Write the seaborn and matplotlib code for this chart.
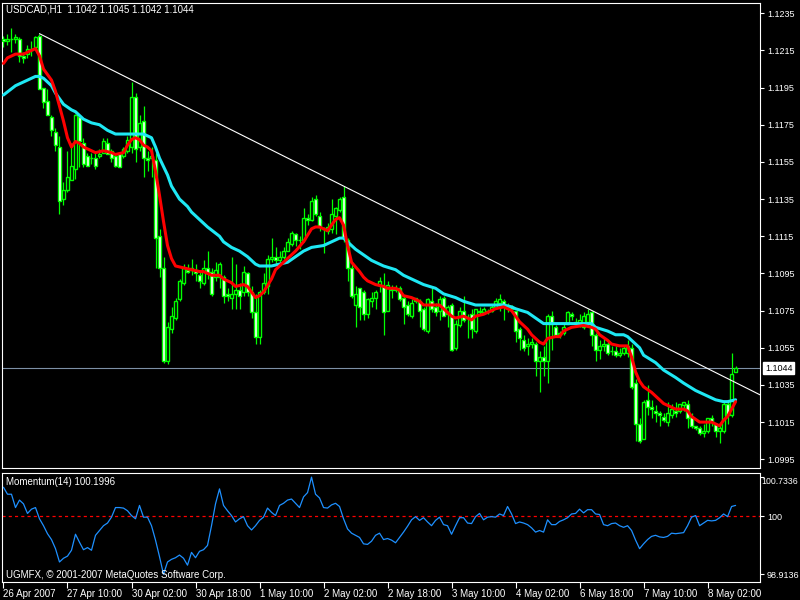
import matplotlib
matplotlib.use("Agg")
import matplotlib.pyplot as plt
import matplotlib.transforms as mtransforms
import numpy as np
import seaborn as sns

# hourly USDCAD candles, bar 0 = first visible bar (26 Apr 2007)
opens = [
    1.1221, 1.1220, 1.1221, 1.1221, 1.1221, 1.1212, 1.1213, 1.1215, 1.1217, 1.1223,
    1.1195, 1.1188, 1.1179, 1.1171, 1.1163, 1.1135, 1.1140, 1.1145, 1.1151, 1.1179,
    1.1165, 1.1158, 1.1157, 1.1157, 1.1158, 1.1160, 1.1165, 1.1161, 1.1158, 1.1159,
    1.1158, 1.1161, 1.1163, 1.1190, 1.1163, 1.1177, 1.1157, 1.1157, 1.1156, 1.1115,
    1.1098, 1.1048, 1.1065, 1.1071, 1.1081, 1.1090, 1.1097, 1.1097, 1.1097, 1.1094,
    1.1090, 1.1098, 1.1096, 1.1093, 1.1093, 1.1093, 1.1084, 1.1082, 1.1084, 1.1086,
    1.1085, 1.1095, 1.1085, 1.1074, 1.1061, 1.1085, 1.1088, 1.1103, 1.1104, 1.1102,
    1.1104, 1.1107, 1.1111, 1.1116, 1.1113, 1.1113, 1.1125, 1.1124, 1.1135, 1.1126,
    1.1119, 1.1118, 1.1119, 1.1126, 1.1129, 1.1136, 1.1113, 1.1098, 1.1078, 1.1087,
    1.1085, 1.1073, 1.1080, 1.1082, 1.1089, 1.1088, 1.1075, 1.1087, 1.1086, 1.1087,
    1.1082, 1.1078, 1.1072, 1.1080, 1.1080, 1.1076, 1.1064, 1.1080, 1.1077, 1.1075,
    1.1082, 1.1073, 1.1078, 1.1055, 1.1067, 1.1075, 1.1071, 1.1073, 1.1064, 1.1075,
    1.1074, 1.1075, 1.1075, 1.1077, 1.1079, 1.1080, 1.1078, 1.1077, 1.1075, 1.1065,
    1.1059, 1.1056, 1.1057, 1.1057, 1.1048, 1.1050, 1.1048, 1.1072, 1.1066, 1.1062,
    1.1063, 1.1068, 1.1073, 1.1069, 1.1068, 1.1066, 1.1069, 1.1074, 1.1062, 1.1054,
    1.1056, 1.1057, 1.1053, 1.1053, 1.1051, 1.1052, 1.1052, 1.1055, 1.1036, 1.1014,
    1.1006, 1.1027, 1.1023, 1.1021, 1.1020, 1.1018, 1.1015, 1.1019, 1.1021, 1.1021,
    1.1024, 1.1025, 1.1018, 1.1013, 1.1012, 1.1009, 1.1010, 1.1017, 1.1014, 1.1010,
    1.1010, 1.1025, 1.1019, 1.1042,
]
highs = [
    1.1223, 1.1224, 1.1227, 1.1224, 1.1222, 1.1214, 1.1218, 1.1220, 1.1223, 1.1224,
    1.1195, 1.1194, 1.1180, 1.1173, 1.1169, 1.1144, 1.1161, 1.1165, 1.1181, 1.1180,
    1.1168, 1.1160, 1.1160, 1.1160, 1.1162, 1.1168, 1.1168, 1.1162, 1.1159, 1.1160,
    1.1163, 1.1169, 1.1198, 1.1192, 1.1180, 1.1185, 1.1161, 1.1163, 1.1160, 1.1119,
    1.1104, 1.1069, 1.1077, 1.1082, 1.1092, 1.1100, 1.1100, 1.1103, 1.1100, 1.1097,
    1.1102, 1.1107, 1.1098, 1.1101, 1.1101, 1.1094, 1.1087, 1.1104, 1.1100, 1.1090,
    1.1099, 1.1096, 1.1088, 1.1084, 1.1086, 1.1095, 1.1105, 1.1114, 1.1109, 1.1107,
    1.1109, 1.1114, 1.1118, 1.1117, 1.1115, 1.1130, 1.1127, 1.1136, 1.1137, 1.1128,
    1.1120, 1.1122, 1.1135, 1.1131, 1.1136, 1.1142, 1.1114, 1.1100, 1.1088, 1.1087,
    1.1086, 1.1082, 1.1085, 1.1086, 1.1093, 1.1095, 1.1091, 1.1089, 1.1089, 1.1088,
    1.1083, 1.1080, 1.1081, 1.1082, 1.1081, 1.1077, 1.1082, 1.1087, 1.1079, 1.1083,
    1.1083, 1.1078, 1.1079, 1.1070, 1.1077, 1.1083, 1.1073, 1.1076, 1.1076, 1.1077,
    1.1077, 1.1076, 1.1078, 1.1082, 1.1084, 1.1081, 1.1079, 1.1078, 1.1075, 1.1066,
    1.1062, 1.1060, 1.1060, 1.1058, 1.1053, 1.1056, 1.1073, 1.1075, 1.1067, 1.1064,
    1.1068, 1.1075, 1.1074, 1.1071, 1.1073, 1.1074, 1.1076, 1.1075, 1.1063, 1.1059,
    1.1061, 1.1058, 1.1056, 1.1056, 1.1055, 1.1056, 1.1059, 1.1057, 1.1038, 1.1017,
    1.1027, 1.1035, 1.1027, 1.1024, 1.1021, 1.1020, 1.1026, 1.1025, 1.1026, 1.1025,
    1.1026, 1.1027, 1.1020, 1.1013, 1.1013, 1.1014, 1.1017, 1.1019, 1.1014, 1.1014,
    1.1026, 1.1027, 1.1052, 1.1045,
]
lows = [
    1.1217, 1.1218, 1.1214, 1.1219, 1.1209, 1.1208, 1.1211, 1.1212, 1.1216, 1.1194,
    1.1184, 1.1180, 1.1169, 1.1161, 1.1127, 1.1132, 1.1139, 1.1145, 1.1146, 1.1152,
    1.1152, 1.1153, 1.1154, 1.1151, 1.1157, 1.1160, 1.1159, 1.1155, 1.1152, 1.1152,
    1.1157, 1.1160, 1.1160, 1.1155, 1.1161, 1.1147, 1.1150, 1.1147, 1.1098, 1.1093,
    1.1047, 1.1046, 1.1063, 1.1070, 1.1080, 1.1089, 1.1095, 1.1094, 1.1091, 1.1087,
    1.1089, 1.1092, 1.1083, 1.1091, 1.1087, 1.1079, 1.1080, 1.1076, 1.1076, 1.1076,
    1.1083, 1.1083, 1.1071, 1.1057, 1.1057, 1.1084, 1.1084, 1.1101, 1.1100, 1.1101,
    1.1103, 1.1107, 1.1110, 1.1110, 1.1108, 1.1112, 1.1121, 1.1123, 1.1126, 1.1118,
    1.1106, 1.1116, 1.1117, 1.1116, 1.1128, 1.1112, 1.1091, 1.1082, 1.1066, 1.1070,
    1.1070, 1.1071, 1.1077, 1.1076, 1.1085, 1.1062, 1.1075, 1.1082, 1.1085, 1.1080,
    1.1068, 1.1072, 1.1071, 1.1079, 1.1066, 1.1064, 1.1063, 1.1074, 1.1072, 1.1070,
    1.1072, 1.1066, 1.1053, 1.1054, 1.1066, 1.1069, 1.1060, 1.1060, 1.1063, 1.1073,
    1.1074, 1.1073, 1.1074, 1.1076, 1.1075, 1.1070, 1.1074, 1.1074, 1.1058, 1.1054,
    1.1053, 1.1051, 1.1055, 1.1040, 1.1031, 1.1040, 1.1036, 1.1054, 1.1061, 1.1060,
    1.1062, 1.1068, 1.1070, 1.1066, 1.1066, 1.1065, 1.1067, 1.1056, 1.1048, 1.1049,
    1.1053, 1.1051, 1.1051, 1.1050, 1.1050, 1.1051, 1.1050, 1.1033, 1.1005, 1.1004,
    1.1006, 1.1019, 1.1017, 1.1015, 1.1013, 1.1015, 1.1013, 1.1017, 1.1018, 1.1020,
    1.1021, 1.1012, 1.1012, 1.1011, 1.1008, 1.1007, 1.1009, 1.1013, 1.1007, 1.1004,
    1.1009, 1.1014, 1.1018, 1.1042,
]
closes = [
    1.1220, 1.1221, 1.1221, 1.1222, 1.1212, 1.1211, 1.1216, 1.1216, 1.1222, 1.1194,
    1.1187, 1.1180, 1.1172, 1.1164, 1.1134, 1.1140, 1.1147, 1.1153, 1.1180, 1.1166,
    1.1154, 1.1153, 1.1157, 1.1153, 1.1159, 1.1166, 1.1159, 1.1157, 1.1153, 1.1152,
    1.1162, 1.1167, 1.1190, 1.1162, 1.1176, 1.1157, 1.1156, 1.1158, 1.1114, 1.1098,
    1.1048, 1.1066, 1.1072, 1.1080, 1.1091, 1.1098, 1.1096, 1.1098, 1.1095, 1.1091,
    1.1098, 1.1095, 1.1084, 1.1097, 1.1100, 1.1083, 1.1083, 1.1084, 1.1086, 1.1083,
    1.1096, 1.1085, 1.1074, 1.1061, 1.1085, 1.1090, 1.1103, 1.1104, 1.1102, 1.1104,
    1.1107, 1.1112, 1.1117, 1.1113, 1.1113, 1.1125, 1.1124, 1.1134, 1.1127, 1.1120,
    1.1119, 1.1120, 1.1127, 1.1130, 1.1135, 1.1114, 1.1098, 1.1083, 1.1084, 1.1077,
    1.1073, 1.1081, 1.1082, 1.1085, 1.1091, 1.1074, 1.1089, 1.1086, 1.1087, 1.1081,
    1.1077, 1.1073, 1.1079, 1.1082, 1.1075, 1.1065, 1.1081, 1.1076, 1.1074, 1.1081,
    1.1072, 1.1077, 1.1054, 1.1068, 1.1075, 1.1070, 1.1071, 1.1065, 1.1076, 1.1074,
    1.1076, 1.1074, 1.1077, 1.1080, 1.1081, 1.1078, 1.1078, 1.1076, 1.1064, 1.1060,
    1.1055, 1.1057, 1.1058, 1.1048, 1.1050, 1.1048, 1.1072, 1.1068, 1.1062, 1.1063,
    1.1066, 1.1074, 1.1072, 1.1068, 1.1070, 1.1072, 1.1073, 1.1062, 1.1054, 1.1056,
    1.1057, 1.1052, 1.1053, 1.1051, 1.1052, 1.1055, 1.1056, 1.1034, 1.1014, 1.1005,
    1.1026, 1.1023, 1.1022, 1.1020, 1.1019, 1.1016, 1.1020, 1.1022, 1.1020, 1.1025,
    1.1026, 1.1017, 1.1013, 1.1012, 1.1009, 1.1010, 1.1017, 1.1015, 1.1010, 1.1012,
    1.1025, 1.1019, 1.1041, 1.1044,
]

# fast moving average (red) as (bar, price)
red_ma = [
    (0, 1.1208), (1, 1.1211), (3, 1.1213), (5, 1.1213), (7, 1.1215), (8, 1.1216),
    (9, 1.1212), (10, 1.1205), (12, 1.1199), (13, 1.1193), (14, 1.1185), (15, 1.1177),
    (16, 1.1168), (17, 1.1163), (18, 1.1166), (19, 1.1165), (20, 1.1163), (23, 1.1160),
    (25, 1.1161), (27, 1.1160), (28, 1.1159), (30, 1.1160), (31, 1.1164), (32, 1.1167),
    (33, 1.1168), (34, 1.1167), (35, 1.1164), (36, 1.1163), (37, 1.1161), (38, 1.1150),
    (39, 1.1137), (40, 1.1123), (41, 1.1110), (42, 1.1103), (43, 1.1099), (45, 1.1098),
    (47, 1.1097), (49, 1.1096), (50, 1.1096), (52, 1.1094), (54, 1.1094), (55, 1.1092),
    (57, 1.1090), (58, 1.1088), (60, 1.1089), (61, 1.1088), (62, 1.1085), (63, 1.1082),
    (64, 1.1083), (65, 1.1085), (67, 1.1092), (68, 1.1097), (70, 1.1101), (72, 1.1105),
    (73, 1.1107), (75, 1.1112), (77, 1.1119), (78, 1.1120), (79, 1.1120), (81, 1.1118),
    (82, 1.1121), (83, 1.1124), (84, 1.1125), (85, 1.1121), (86, 1.1110), (87, 1.1101),
    (89, 1.1096), (90, 1.1093), (91, 1.1091), (93, 1.1089), (95, 1.1088), (96, 1.1087),
    (98, 1.1087), (99, 1.1086), (100, 1.1083), (102, 1.1082), (104, 1.1080), (105, 1.1078),
    (107, 1.1078), (109, 1.1078), (110, 1.1076), (112, 1.1072), (113, 1.1071), (115, 1.1072),
    (116, 1.1071), (117, 1.1070), (118, 1.1072), (120, 1.1073), (122, 1.1075), (123, 1.1076),
    (125, 1.1077), (127, 1.1075), (128, 1.1072), (129, 1.1069), (131, 1.1065), (132, 1.1062),
    (134, 1.1058), (135, 1.1057), (136, 1.1060), (138, 1.1061), (139, 1.1061), (140, 1.1064),
    (142, 1.1066), (145, 1.1067), (147, 1.1066), (148, 1.1065), (149, 1.1062), (151, 1.1059),
    (152, 1.1057), (154, 1.1056), (156, 1.1056), (157, 1.1050), (158, 1.1042), (159, 1.1037),
    (160, 1.1034), (162, 1.1031), (163, 1.1029), (165, 1.1025), (167, 1.1023), (168, 1.1022),
    (170, 1.1022), (171, 1.1021), (172, 1.1018), (174, 1.1015), (176, 1.1015), (177, 1.1015),
    (179, 1.1013), (180, 1.1016), (181, 1.1018), (182, 1.1022), (183, 1.1026),
]

# slow moving average (aqua)
cyan_ma = [
    (0, 1.1191), (3, 1.1196), (5, 1.1198), (8, 1.1201), (9, 1.1201), (10, 1.1200),
    (12, 1.1196), (13, 1.1192), (15, 1.1186), (17, 1.1183), (18, 1.1182), (20, 1.1178),
    (22, 1.1176), (24, 1.1175), (26, 1.1172), (28, 1.1170), (30, 1.1170), (32, 1.1170),
    (34, 1.1170), (35, 1.1170), (37, 1.1168), (38, 1.1163), (39, 1.1157), (41, 1.1148),
    (42, 1.1142), (44, 1.1135), (46, 1.1131), (47, 1.1128), (49, 1.1124), (51, 1.1120),
    (54, 1.1115), (55, 1.1112), (57, 1.1109), (59, 1.1107), (61, 1.1104), (62, 1.1102),
    (63, 1.1100), (64, 1.1099), (67, 1.1099), (69, 1.1100), (71, 1.1101), (73, 1.1104),
    (75, 1.1107), (77, 1.1109), (80, 1.1110), (82, 1.1112), (83, 1.1113), (84, 1.1114),
    (85, 1.1114), (86, 1.1112), (88, 1.1108), (90, 1.1105), (92, 1.1102), (93, 1.1101),
    (95, 1.1099), (98, 1.1097), (100, 1.1094), (103, 1.1091), (105, 1.1089), (108, 1.1087),
    (110, 1.1084), (113, 1.1082), (115, 1.1080), (118, 1.1078), (120, 1.1078), (123, 1.1078),
    (125, 1.1078), (127, 1.1077), (128, 1.1076), (131, 1.1074), (133, 1.1071), (135, 1.1068),
    (137, 1.1068), (141, 1.1068), (144, 1.1068), (147, 1.1068), (148, 1.1066), (151, 1.1064),
    (153, 1.1062), (155, 1.1062), (156, 1.1061), (157, 1.1059), (159, 1.1055), (160, 1.1051),
    (163, 1.1047), (165, 1.1043), (168, 1.1039), (170, 1.1036), (173, 1.1032), (175, 1.1030),
    (178, 1.1027), (180, 1.1026), (181, 1.1026), (183, 1.1027),
]

# Momentum(14), one value per bar
momentum = [
    100.54, 100.41, 100.41, 100.16, 100.30, 100.23, 100.05, 100.13, 100.16, 99.95,
    99.82, 99.67, 99.56, 99.39, 99.14, 99.21, 99.25, 99.36, 99.66, 99.51,
    99.37, 99.41, 99.36, 99.64, 99.73, 99.82, 99.87, 99.98, 100.16, 100.16,
    100.15, 100.10, 100.01, 99.95, 100.20, 99.98, 99.98, 99.82, 99.55, 99.24,
    98.91, 99.14, 99.19, 99.22, 99.27, 99.21, 99.08, 99.32, 99.22, 99.34,
    99.37, 99.45, 99.82, 100.23, 100.51, 100.20, 100.10, 100.01, 99.89, 99.95,
    99.99, 99.82, 99.74, 99.82, 99.92, 99.98, 100.15, 100.07, 100.01, 100.20,
    100.24, 100.30, 100.32, 100.24, 100.16, 100.36, 100.44, 100.73, 100.41, 100.34,
    100.16, 100.15, 100.21, 100.24, 100.18, 99.95, 99.76, 99.68, 99.64, 99.60,
    99.48, 99.47, 99.53, 99.64, 99.68, 99.56, 99.58, 99.55, 99.50, 99.60,
    99.70, 99.81, 99.93, 99.99, 99.92, 99.97, 99.89, 99.82, 99.92, 99.98,
    99.84, 99.82, 99.66, 99.82, 99.97, 99.97, 99.87, 99.86, 99.99, 100.05,
    99.93, 99.98, 99.99, 99.98, 100.04, 100.01, 100.18, 100.04, 99.86, 99.89,
    99.87, 99.84, 99.78, 99.70, 99.73, 99.70, 99.93, 99.84, 99.84, 99.90,
    99.93, 99.97, 100.04, 100.05, 100.13, 100.06, 100.12, 100.12, 100.04, 100.03,
    99.84, 99.82, 99.86, 99.87, 99.82, 99.79, 99.82, 99.73, 99.55, 99.39,
    99.48, 99.56, 99.62, 99.64, 99.61, 99.60, 99.62, 99.68, 99.67, 99.68,
    99.69, 99.82, 99.98, 100.01, 99.82, 99.87, 99.92, 99.91, 99.92, 99.97,
    100.04, 99.99, 100.18, 100.20,
]

trend_bars = [9, 85]
trend_prices = [1.1224, 1.1142]
last_price = 1.1044

price_ticks = [1.0995, 1.1015, 1.1035, 1.1055, 1.1075, 1.1095, 1.1115,
               1.1135, 1.1155, 1.1175, 1.1195, 1.1215, 1.1235]
mom_max = 100.7336
mom_min = 98.9136
time_ticks = [0, 16, 32, 48, 64, 80, 96, 112, 128, 144, 160, 176]
time_labels = ["26 Apr 2007", "27 Apr 10:00", "30 Apr 02:00", "30 Apr 18:00",
               "1 May 10:00", "2 May 02:00", "2 May 18:00", "3 May 10:00",
               "4 May 02:00", "6 May 18:00", "7 May 10:00", "8 May 02:00"]

sns.set_theme(style="dark", rc={"axes.facecolor": "black", "figure.facecolor": "black",
                                "axes.edgecolor": "white", "axes.grid": False})
plt.rcParams["font.family"] = ["Liberation Sans", "DejaVu Sans"]

lime = "#00ff00"
aqua = "#1ee8f4"
xlim = (-0.25, 189.1)

fig = plt.figure(figsize=(8, 6), dpi=100, facecolor="black")
ax = fig.add_axes([0.0031, 0.22, 0.9469, 0.775])
axm = fig.add_axes([0.0031, 0.03, 0.9469, 0.1817])

# candles
bars = np.arange(len(opens))
o = np.array(opens)
h = np.array(highs)
l = np.array(lows)
c = np.array(closes)
fills = ["black" if cc >= oo else "white" for oo, cc in zip(o, c)]
ax.vlines(bars, l, h, color=lime, linewidth=0.9, zorder=2)
ax.bar(bars, np.maximum(np.abs(c - o), 0.00001), bottom=np.minimum(o, c), width=0.55,
       color=fills, edgecolor=lime, linewidth=1.0, zorder=3)

# moving averages
rb, rv = zip(*red_ma)
cb, cv = zip(*cyan_ma)
sns.lineplot(x=list(cb), y=list(cv), ax=ax, color=aqua, linewidth=2.2, zorder=4)
sns.lineplot(x=list(rb), y=list(rv), ax=ax, color="red", linewidth=2.2, zorder=5)

# trend line (ray to the right edge) and last price line
slope = (trend_prices[1] - trend_prices[0]) / (trend_bars[1] - trend_bars[0])
x_end = xlim[1] + 1
ax.plot([trend_bars[0], x_end], [trend_prices[0], trend_prices[0] + slope * (x_end - trend_bars[0])],
        color="white", linewidth=0.8, zorder=6)
ax.axhline(last_price, color="#7d90a6", linewidth=0.8, zorder=1)

ax.set_xlim(*xlim)
ax.set_ylim(1.09903, 1.12405)
ax.set_xlabel("")
ax.set_ylabel("")
ax.set_xticks([])
ax.yaxis.tick_right()
ax.set_yticks(price_ticks)
ax.set_yticklabels([f"{p:.4f}" for p in price_ticks])
ax.tick_params(axis="y", right=True, left=False, colors="white", labelcolor="white",
               labelsize=6.5, length=3, width=0.8, pad=2, direction="out")
for sp in ax.spines.values():
    sp.set_color("white")
    sp.set_linewidth(0.8)

trans = mtransforms.blended_transform_factory(ax.transAxes, ax.transData)
ax.text(1.0066, last_price, f"{last_price:.4f}", transform=trans, color="black", fontsize=6.5,
        ha="left", va="center", zorder=10, clip_on=False,
        bbox=dict(facecolor="white", edgecolor="white", pad=1.2))

fig.text(6 / 800, 1 - 10 / 600, "USDCAD,H1  1.1042 1.1045 1.1042 1.1044",
         color="white", fontsize=7, ha="left", va="center")

# momentum window
sns.lineplot(x=bars, y=momentum, ax=axm, color="#1e90ff", linewidth=0.9, zorder=3)
axm.axhline(100, color="red", linewidth=0.9, linestyle=(0, (2.5, 2.5)), zorder=2)
axm.set_xlim(*xlim)
axm.set_ylim(98.765, 100.808)
axm.set_xlabel("")
axm.set_ylabel("")
axm.yaxis.tick_right()
axm.set_yticks([mom_min, 100.0, mom_max])
axm.set_yticklabels([f"{mom_min:.4f}", "100", ""])
axm.tick_params(axis="y", right=True, left=False, colors="white", labelcolor="white",
                labelsize=6.5, length=3, width=0.8, pad=2, direction="out")
# top value label squeezed against the right edge of the window
fig.text(0.998, 1 - 482 / 600, f"{mom_max:.4f}", color="white", fontsize=6.3,
         ha="right", va="center")
axm.set_xticks(time_ticks)
axm.set_xticklabels(time_labels)
axm.tick_params(axis="x", bottom=True, colors="white", labelcolor="white",
                labelsize=7, length=4, width=0.8, pad=1, direction="out")
for t in axm.get_xticklabels():
    t.set_ha("left")
for sp in axm.spines.values():
    sp.set_color("white")
    sp.set_linewidth(0.8)

axm.text(0.004, 0.92, "Momentum(14) 100.1996", transform=axm.transAxes,
         color="white", fontsize=7, ha="left", va="center")
axm.text(0.004, 0.064, "UGMFX, \u00a9 2001-2007 MetaQuotes Software Corp.", transform=axm.transAxes,
         color="white", fontsize=7, ha="left", va="center")

fig.savefig("out.png", dpi=100, facecolor="black")
